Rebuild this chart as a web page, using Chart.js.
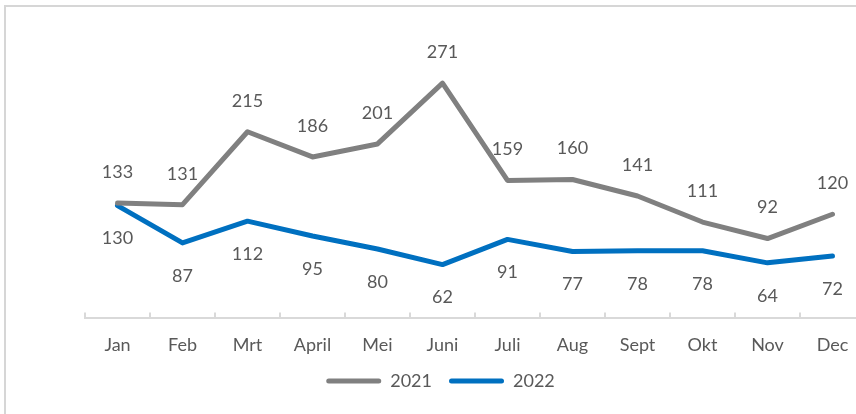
<!DOCTYPE html>
<html>
<head>
<meta charset="utf-8">
<script src="https://cdn.jsdelivr.net/npm/chart.js@4"></script>
<style>
  html, body { margin:0; padding:0; background:#fff; overflow:hidden; width:856px; height:414px; }
  #frame { position:absolute; left:4px; top:5px; width:900px; height:450px; border-left:2px solid #d6d6d6; border-top:2px solid #d6d6d6; }
  #c { position:absolute; left:0; top:0; }
</style>
</head>
<body>
<div id="frame"></div>
<canvas id="c" width="880" height="414"></canvas>
<script>
// ---------- DATA ----------
const months = ["Jan","Feb","Mrt","April","Mei","Juni","Juli","Aug","Sept","Okt","Nov","Dec"];
const sales2021 = [133,131,215,186,201,271,159,160,141,111,92,120];
const sales2022 = [130,87,112,95,80,62,91,77,78,78,64,72];

const TEXT = "#595959";
const FONT = "Lato, 'Open Sans', sans-serif";

// ---------- VALUE LABELS (above for 2021, below for 2022) ----------
const valueLabels = {
  id: "valueLabels",
  afterDatasetsDraw(chart){
    const ctx = chart.ctx;
    ctx.save();
    ctx.font = "18px " + FONT;
    ctx.fillStyle = TEXT;
    ctx.textAlign = "center";
    ctx.textBaseline = "middle";
    chart.data.datasets.forEach((ds, i) => {
      const meta = chart.getDatasetMeta(i);
      const off = i === 0 ? -31 : 33;
      meta.data.forEach((pt, j) => {
        ctx.fillText(String(ds.data[j]), pt.x, pt.y + off);
      });
    });
    ctx.restore();
  }
};

new Chart(document.getElementById("c"), {
  type: "line",
  data: {
    labels: months,
    datasets: [
      { label:"2021", data:sales2021, borderColor:"#808080", backgroundColor:"#808080",
        borderWidth:5, pointRadius:0, tension:0, borderJoinStyle:"round", borderCapStyle:"round" },
      { label:"2022", data:sales2022, borderColor:"#0070C0", backgroundColor:"#0070C0",
        borderWidth:5, pointRadius:0, tension:0, borderJoinStyle:"round", borderCapStyle:"round" }
    ]
  },
  options: {
    responsive:false,
    animation:false,
    layout:{ padding:{ left:16, right:15, top:58, bottom:14 } },
    scales:{
      x:{
        offset:true,
        grid:{ display:true, drawOnChartArea:false, offset:true, color:"#d9d9d9", lineWidth:2, tickLength:-6 },
        border:{ display:true, color:"#d9d9d9", width:2 },
        ticks:{ color:TEXT, font:{ family:FONT, size:18 }, padding:22, maxRotation:0, autoSkip:false },
        afterFit(scale){ scale.height -= 23; }
      },
      y:{
        display:true, min:0, max:300,
        grid:{ display:false }, border:{ display:false }, ticks:{ display:false },
        afterFit(scale){ scale.width = 69; }
      }
    },
    plugins:{
      tooltip:{ enabled:false },
      legend:{
        position:"bottom",
        labels:{
          color:TEXT, font:{ family:FONT, size:18 }, boxWidth:55, boxHeight:5, padding:17,
          generateLabels(chart){
            return chart.data.datasets.map((ds, i) => ({
              text: ds.label, fillStyle: ds.borderColor, strokeStyle: ds.borderColor,
              lineWidth: 0, borderRadius: 2.5, fontColor: TEXT, datasetIndex: i, hidden: false
            }));
          }
        }
      }
    }
  },
  plugins:[valueLabels]
});
</script>
</body>
</html>
